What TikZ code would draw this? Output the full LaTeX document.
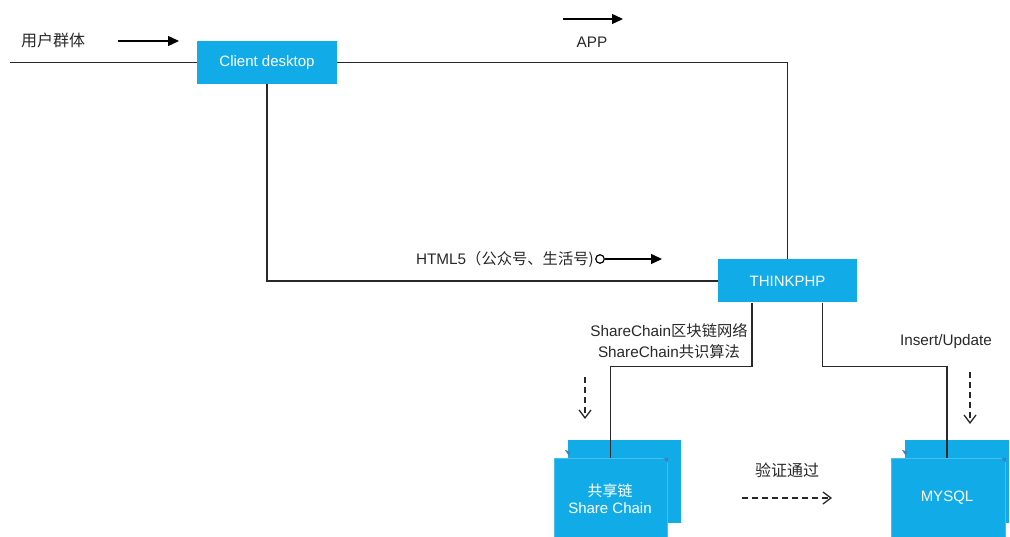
\documentclass[tikz,border=0pt]{standalone}
\usepackage{fontspec}
\setmainfont{Liberation Sans}
\newfontfamily\cjk{Noto Sans CJK SC}
\usetikzlibrary{arrows.meta}
\definecolor{boxblue}{RGB}{17,172,232}
\definecolor{boxedge}{RGB}{70,190,238}
\definecolor{boxshade}{RGB}{60,130,190}
\definecolor{ink}{RGB}{40,40,40}
\tikzset{
  bluebox/.style={fill=boxblue, draw=none, text=white, font=\fontsize{15}{17}\selectfont, inner sep=0pt},
  frontbox/.style={bluebox, draw=boxedge, line width=0.8pt},
  boxtext/.style={text=white, font=\fontsize{15}{17}\selectfont, inner sep=0pt, align=center},
  shade/.style={fill=boxshade, draw=none},
  lbl/.style={text=ink, font=\fontsize{15.3}{21}\selectfont, inner sep=0pt},
  cjklbl/.style={text=ink, font=\cjk\fontsize{16}{18}\selectfont, inner sep=0pt},
  conn/.style={draw=ink, line width=1.4pt},
  solidarrow/.style={draw=black, line width=1.4pt, -{Triangle[length=11pt,width=10pt]}},
  dasharrow/.style={draw=ink, line width=1.3pt, dash pattern=on 6pt off 4pt, -{Straight Barb[length=8pt,width=12pt,line width=1.3pt]}},
}
\begin{document}
\begin{tikzpicture}[x=1pt,y=-1pt]
\useasboundingbox (0,0) rectangle (1010,537);
\clip (0,0) rectangle (1010,537);
% boxes
\node[bluebox, minimum width=140pt, minimum height=43pt] (client) at (267,62.5) {Client desktop};
\node[bluebox, minimum width=139pt, minimum height=43pt] (think) at (787.5,281) {THINKPHP};
\node[bluebox, minimum width=113pt, minimum height=83pt] (chainback) at (624.5,481.5) {};
\fill[shade] ([shift={(-3,10)}]chainback.north west) -- ++(6,2) -- ++(-2,4) -- cycle;
\node[frontbox, minimum width=113pt, minimum height=100pt] (chain) at (610.5,508) {};
\fill[shade] ([shift={(-4,1)}]chain.north east) -- ++(5,-1) -- ++(-1,5) -- cycle;
\node[boxtext] (chaintxt) at (610,499) {{\cjk 共享链}\\Share Chain};
\node[bluebox, minimum width=104pt, minimum height=83pt] (mysqlback) at (957,481.5) {};
\fill[shade] ([shift={(-3,10)}]mysqlback.north west) -- ++(6,2) -- ++(-2,4) -- cycle;
\node[frontbox, minimum width=114pt, minimum height=100pt] (mysql) at (948,508) {};
\fill[shade] ([shift={(-4,1)}]mysql.north east) -- ++(5,-1) -- ++(-1,5) -- cycle;
\node[boxtext] (mysqltxt) at (947,498) {MYSQL};
% labels
\node[cjklbl] (users) at (53,40) {用户群体};
\node[lbl] (app) at (592,42) {APP};
\node[lbl, anchor=east] (html) at (594,259) {HTML5{\cjk（公众号、生活号)}};
\node[lbl, align=center] (sc) at (669,341.5) {ShareChain{\cjk 区块链网络}\\ShareChain{\cjk 共识算法}};
\node[lbl] (ins) at (946,342) {Insert/Update};
\node[cjklbl] (verify) at (787,470) {验证通过};
% coordinates
\coordinate (lin) at (10,62.5);
\coordinate (u1) at (118,41);
\coordinate (u2) at (179,41);
\coordinate (a1) at (563,19);
\coordinate (a2) at (623,19);
\coordinate (h0) at (600,259);
\coordinate (h2) at (662,259);
\coordinate (t1) at (453,281);
\coordinate (t2) at (663,281);
\coordinate (d1) at (585,377);
\coordinate (d2) at (585,419);
\coordinate (e1) at (970,372);
\coordinate (e2) at (970,424);
\coordinate (v1) at (742,498);
\coordinate (v2) at (832,498);
% connectors
\draw[conn] (lin) -- (client.west);
\draw[conn] (client.east) -| (think.north);
\draw[conn] (client.south) |- (think.west);
\draw[draw=ink, line width=2.8pt] (t1) -- (t2);
\draw[conn] ([xshift=-35.5pt]think.south) -- ++(0,64) -| (chain.north);
\draw[conn] ([xshift=35pt]think.south) -- ++(0,64) -| ([xshift=-1pt]mysql.north);
% arrows
\draw[solidarrow] (u1) -- (u2);
\draw[solidarrow] (a1) -- (a2);
\node[draw=black, line width=1.2pt, circle, minimum size=8.5pt, inner sep=0pt] (hc) at (h0) {};
\draw[solidarrow] (hc.east) -- (h2);
\draw[dasharrow] (d1) -- (d2);
\draw[dasharrow] (e1) -- (e2);
\draw[dasharrow] (v1) -- (v2);
\end{tikzpicture}
\end{document}
